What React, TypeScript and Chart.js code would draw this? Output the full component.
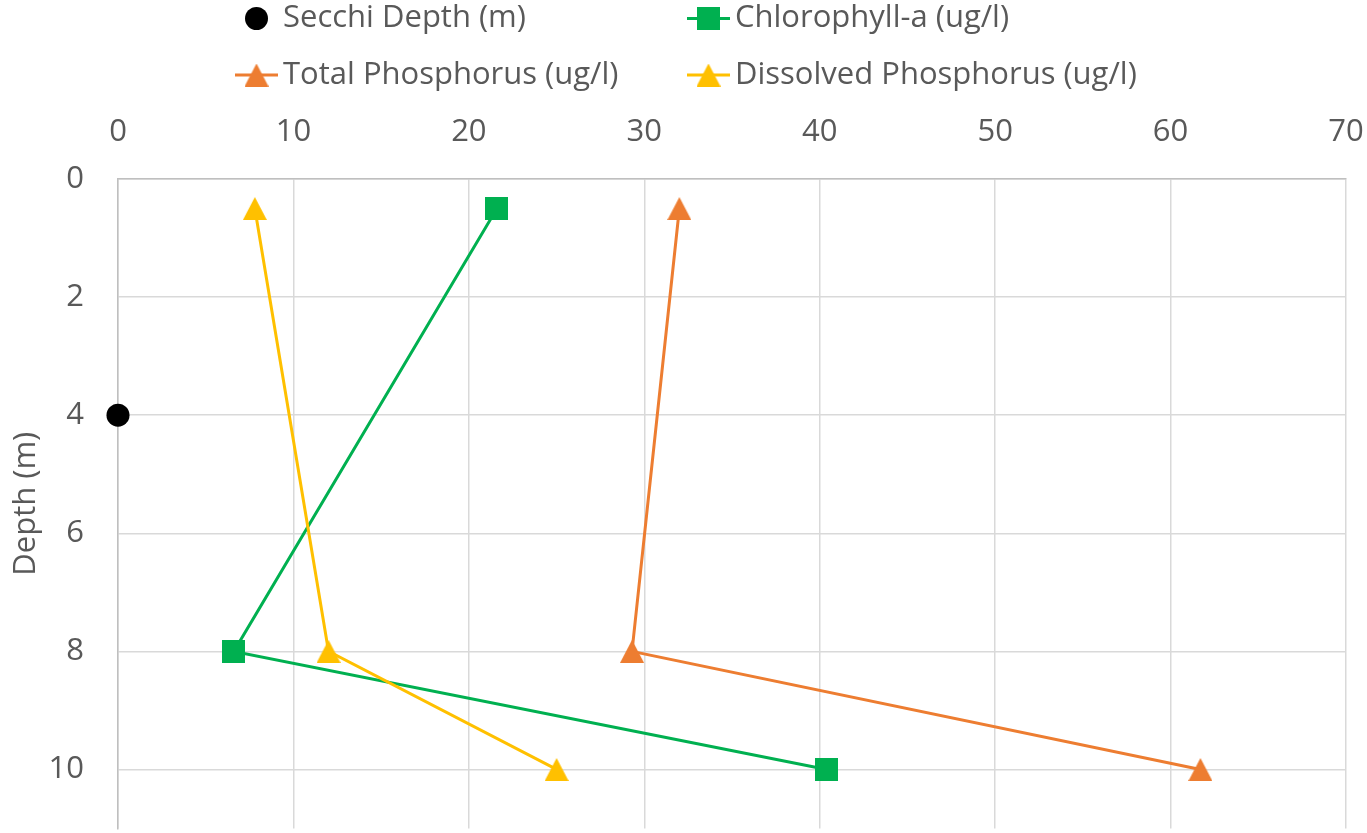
import React, { useEffect, useRef } from "react";
import { Chart, registerables } from "chart.js";

Chart.register(...registerables);

// Sampling depths (m) shared by the profile series
const sampleDepths = [0.5, 8, 10];
// Secchi disk reading
const secchiValue = [0];
const secchiDepth = [4];
// Concentrations (ug/l) at each sampling depth
const chlorophyll = [21.6, 6.6, 40.4];
const totalPhosphorus = [32.0, 29.3, 61.7];
const dissolvedPhosphorus = [7.8, 12.0, 25.0];

const seriesLabels = [
  "Secchi Depth (m)",
  "Chlorophyll-a (ug/l)",
  "Total Phosphorus (ug/l)",
  "Dissolved Phosphorus (ug/l)",
];
const depthTitle = "Depth (m)";

const FONT = "'Open Sans', sans-serif";
const FONT_SIZE = 31;
const TEXT = "#595959";
const GREEN = "#00B050";
const ORANGE = "#ED7D31";
const YELLOW = "#FFC000";
const LINE_W = 3;

const CANVAS_W = 1367;
const CANVAS_H = 840;

function squareMarker(color: string, side: number) {
  const c = document.createElement("canvas");
  c.width = side;
  c.height = side;
  const g = c.getContext("2d")!;
  g.fillStyle = color;
  g.fillRect(0, 0, side, side);
  return c;
}

function triangleMarker(color: string, w: number, h: number) {
  const c = document.createElement("canvas");
  c.width = w;
  c.height = h;
  const g = c.getContext("2d")!;
  g.fillStyle = color;
  g.beginPath();
  g.moveTo(w / 2, 0);
  g.lineTo(w, h);
  g.lineTo(0, h);
  g.closePath();
  g.fill();
  return c;
}

const toPoints = (xs: number[], ys: number[]) => xs.map((x, i) => ({ x, y: ys[i] }));

// Two-column legend drawn above the top axis
const gridLegend = {
  id: "gridLegend",
  afterDraw(chart: any) {
    const ctx = chart.ctx as CanvasRenderingContext2D;
    const cols = [235, 687];
    const rows = [18.5, 75];
    chart.data.datasets.forEach((ds: any, i: number) => {
      const x0 = cols[i % 2];
      const y = rows[Math.floor(i / 2)];
      const cx = x0 + 21.5;
      ctx.save();
      if (ds.showLine) {
        ctx.strokeStyle = ds.borderColor;
        ctx.lineWidth = ds.borderWidth;
        ctx.beginPath();
        ctx.moveTo(x0, y);
        ctx.lineTo(x0 + 43, y);
        ctx.stroke();
      }
      const ps = ds.pointStyle;
      if (ps instanceof HTMLCanvasElement) {
        ctx.drawImage(ps, cx - ps.width / 2, y - ps.height / 2);
      } else {
        ctx.fillStyle = ds.pointBackgroundColor;
        ctx.beginPath();
        ctx.arc(cx, y, ds.pointRadius, 0, Math.PI * 2);
        ctx.fill();
      }
      ctx.fillStyle = TEXT;
      ctx.font = `${FONT_SIZE}px ${FONT}`;
      ctx.textBaseline = "middle";
      ctx.textAlign = "left";
      ctx.fillText(ds.label, x0 + 48, y);
      ctx.restore();
    });
  },
};

export default function App() {
  const canvasRef = useRef<HTMLCanvasElement | null>(null);

  useEffect(() => {
    const canvas = canvasRef.current;
    if (!canvas) return;

    const chart = new Chart(canvas, {
      type: "scatter",
      data: {
        datasets: [
          {
            label: seriesLabels[0],
            data: toPoints(secchiValue, secchiDepth),
            showLine: false,
            pointStyle: "circle",
            pointRadius: 11.5,
            pointHoverRadius: 11.5,
            pointBackgroundColor: "#000000",
            pointBorderWidth: 0,
            borderColor: "#000000",
            clip: false,
            order: 3,
          },
          {
            label: seriesLabels[1],
            data: toPoints(chlorophyll, sampleDepths),
            showLine: true,
            borderColor: GREEN,
            borderWidth: LINE_W,
            pointStyle: squareMarker(GREEN, 23),
            pointBackgroundColor: GREEN,
            clip: false,
            order: 2,
          },
          {
            label: seriesLabels[2],
            data: toPoints(totalPhosphorus, sampleDepths),
            showLine: true,
            borderColor: ORANGE,
            borderWidth: LINE_W,
            pointStyle: triangleMarker(ORANGE, 24, 23),
            pointBackgroundColor: ORANGE,
            clip: false,
            order: 1,
          },
          {
            label: seriesLabels[3],
            data: toPoints(dissolvedPhosphorus, sampleDepths),
            showLine: true,
            borderColor: YELLOW,
            borderWidth: LINE_W,
            pointStyle: triangleMarker(YELLOW, 24, 23),
            pointBackgroundColor: YELLOW,
            clip: false,
            order: 0,
          },
        ] as any,
      },
      options: {
        responsive: false,
        animation: false,
        devicePixelRatio: 1,
        layout: { padding: { top: 100, left: 0, right: 21, bottom: 0 } },
        plugins: {
          legend: { display: false },
          tooltip: { enabled: false },
        },
        scales: {
          x: {
            type: "linear",
            position: "top",
            min: 0,
            max: 70,
            ticks: {
              stepSize: 10,
              color: TEXT,
              padding: 28,
              font: { family: FONT, size: FONT_SIZE, lineHeight: 1.2 },
            },
            grid: { color: "#D9D9D9", lineWidth: 1.5, drawTicks: false },
            border: { color: "#BFBFBF", width: 1.5 },
            afterFit: (s: any) => {
              s.height = 79;
              s.paddingLeft = 0;
              s.paddingRight = 0;
            },
          },
          y: {
            type: "linear",
            reverse: true,
            min: 0,
            max: 11,
            ticks: {
              stepSize: 2,
              includeBounds: false,
              color: TEXT,
              padding: 34,
              font: { family: FONT, size: FONT_SIZE, lineHeight: 1.2 },
            },
            grid: { color: "#D9D9D9", lineWidth: 1.5, drawTicks: false },
            border: { color: "#BFBFBF", width: 1.5 },
            title: {
              display: true,
              text: depthTitle,
              color: TEXT,
              padding: { top: 8, bottom: 0 },
              font: { family: FONT, size: FONT_SIZE, lineHeight: 1.2 },
            },
            afterFit: (s: any) => {
              s.width = 118;
              s.paddingTop = 0;
              s.paddingBottom = 0;
            },
          },
        },
      } as any,
      plugins: [gridLegend],
    });

    return () => chart.destroy();
  }, []);

  return (
    <div
      style={{
        position: "fixed",
        left: 0,
        top: 0,
        width: 1367,
        height: 833,
        background: "#ffffff",
        overflow: "hidden",
      }}
    >
      <canvas
        ref={canvasRef}
        width={CANVAS_W}
        height={CANVAS_H}
        style={{ width: CANVAS_W, height: CANVAS_H, display: "block" }}
      />
    </div>
  );
}
